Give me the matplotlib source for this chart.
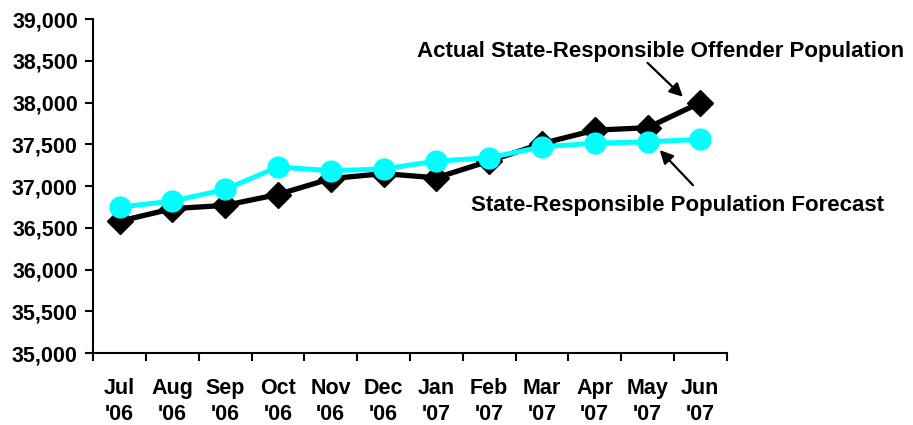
import matplotlib.pyplot as plt
import numpy as np
from matplotlib.ticker import FuncFormatter

# data
months = ["Jul\n'06", "Aug\n'06", "Sep\n'06", "Oct\n'06", "Nov\n'06", "Dec\n'06",
          "Jan\n'07", "Feb\n'07", "Mar\n'07", "Apr\n'07", "May\n'07", "Jun\n'07"]
actual = [36580, 36730, 36770, 36900, 37090, 37150, 37100, 37300, 37510, 37670, 37700, 38000]
forecast = [36750, 36820, 36960, 37230, 37185, 37205, 37300, 37340, 37470, 37515, 37530, 37560]

plt.rcParams['font.family'] = ['Liberation Sans', 'DejaVu Sans']
plt.rcParams['font.weight'] = 'bold'

fig = plt.figure(figsize=(9.13, 4.25), dpi=100)
ax = fig.add_axes([0.102, 0.169, 0.694, 0.786])

x = np.arange(len(months)) + 0.5
ax.plot(x, actual, color='black', lw=3.8, marker='D', markersize=13, zorder=3)
ax.plot(x, forecast, color='#00FFFF', lw=3.6, marker='o', markersize=15, zorder=4)

ax.set_xlim(0, len(months))
ax.set_ylim(35000, 39000)
ax.set_yticks(np.arange(35000, 39001, 500))
ax.yaxis.set_major_formatter(FuncFormatter(lambda v, p: f'{int(v):,}'))

# category boundaries get the ticks, labels sit in the middle
ax.set_xticks(np.arange(0, len(months) + 1))
ax.set_xticklabels([])
ax.set_xticks(x, minor=True)
ax.set_xticklabels(months, minor=True, fontsize=15.5, fontweight='bold', linespacing=1.3)
ax.tick_params(axis='x', which='minor', length=0, pad=18)
ax.tick_params(axis='x', which='major', direction='out', length=6, width=1.5)
ax.tick_params(axis='y', direction='out', length=6, width=1.5, labelsize=15.5, pad=5)
for lab in ax.get_yticklabels():
    lab.set_fontweight('bold')

for s in ['top', 'right']:
    ax.spines[s].set_visible(False)
for s in ['left', 'bottom']:
    ax.spines[s].set_linewidth(1.5)

# labels and their arrows
ax.text(661 / 913, 1 - 51 / 425, 'Actual State-Responsible Offender Population',
        transform=fig.transFigure, ha='center', va='center', fontsize=16, fontweight='bold')
ax.text(677 / 913, 1 - 205 / 425, 'State-Responsible Population Forecast',
        transform=fig.transFigure, ha='center', va='center', fontsize=16, fontweight='bold')
arrow = dict(arrowstyle='-|>', color='black', lw=1.6, mutation_scale=20, shrinkA=0, shrinkB=0)
ax.annotate('', xy=(11.17, 38070), xytext=(10.5, 38476), arrowprops=arrow)
ax.annotate('', xy=(10.73, 37432), xytext=(11.36, 37012), arrowprops=arrow)

fig.savefig('out.png', dpi=100)
